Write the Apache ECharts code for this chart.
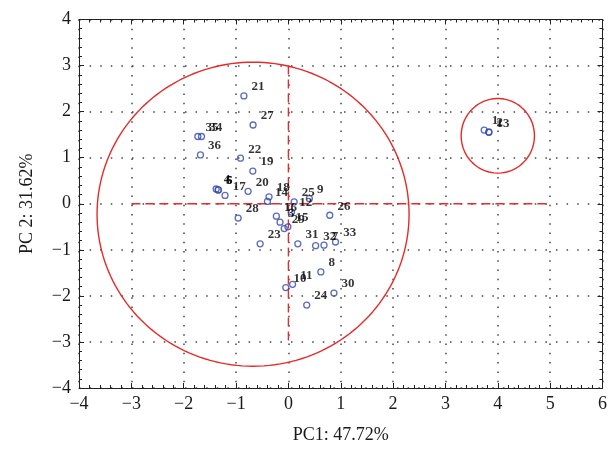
<!DOCTYPE html>
<html>
<head>
<meta charset="utf-8">
<script src="https://cdn.jsdelivr.net/npm/echarts@6/dist/echarts.min.js"></script>
<style>html,body{margin:0;padding:0;background:#fff;}#c{width:610px;height:449px;}</style>
</head>
<body>
<div id="c"></div>
<script>
// Sample ids and PCA scores
const ids = ['1','2','3','4','5','6','7','8','9','10','11','12','13','14','15','16','17','18',
  '19','20','21','22','23','24','25','26','27','28','29','30','31','32','33','34','35','36'];
const pc1 = [3.74, 3.83, -0.16, -1.38, -1.34, -1.34, 0.68, 0.62, 0.40, -0.05, 0.08, 0.06,
  3.83, -0.40, -0.01, -0.23, -1.21, -0.37, -0.68, -0.77, -0.85, -0.915, -0.54, 0.35,
  0.11, 0.79, -0.675, -0.96, -0.08, 0.87, 0.18, 0.52, 0.90, -1.66, -1.73, -1.68];
const pc2 = [1.60, 1.56, -0.40, 0.32, 0.30, 0.30, -0.90, -1.48, 0.11, -1.82, -1.75, -0.18,
  1.55, 0.05, -0.50, -0.27, 0.18, 0.15, 0.71, 0.27, 2.34, 0.99, -0.87, -2.20,
  0.04, -0.25, 1.71, -0.31, -0.54, -1.94, -0.87, -0.91, -0.83, 1.46, 1.46, 1.06];

// Group ellipses: [centerX, centerY, radiusX, radiusY]
const bigEllipse = [-0.675, -0.227, 2.98, 3.30];
const smallEllipse = [4.0, 1.475, 0.70, 0.81];
// Red dashed cross lines
const vLine = [[0, 3], [0, -3]];
const hLine = [[-3, 0], [5, 0]];

const xTicks = {min: -4, max: 6, interval: 1};
const yTicks = {min: -4, max: 4, interval: 1};

function ellipsePts(e) {
  const pts = [];
  const n = 180;
  for (let i = 0; i <= n; i++) {
    const t = 2 * Math.PI * i / n;
    pts.push([e[0] + e[2] * Math.cos(t), e[1] + e[3] * Math.sin(t)]);
  }
  return pts;
}

const serif = '"Liberation Serif", "DejaVu Serif", serif';
const fmt = v => String(v).replace('-', '\u2212');
const red = '#e62a2a';

const chart = echarts.init(document.getElementById('c'));
const baseAxis = {
  type: 'value',
  axisLine: {show: true, onZero: false, lineStyle: {color: '#222', width: 1}},
  axisTick: {show: true, inside: true, length: 5, lineStyle: {color: '#222'}},
  minorTick: {show: true, splitNumber: 5, length: 3, lineStyle: {color: '#222'}},
};
chart.setOption({
  animation: false,
  grid: {left: 79, right: 1, top: 19.5, bottom: 59},
  xAxis: [
    Object.assign({}, baseAxis, {
      min: xTicks.min, max: xTicks.max, interval: xTicks.interval, position: 'bottom',
      name: 'PC1: 47.72%', nameLocation: 'middle', nameGap: 38,
      nameTextStyle: {fontFamily: serif, fontSize: 18, color: '#1a1a1a'},
      axisLabel: {fontFamily: serif, fontSize: 18, color: '#1a1a1a', margin: 7, formatter: fmt},
      splitLine: {show: true, lineStyle: {color: '#444', width: 1.5, type: [1.5, 7.76]}}
    }),
    Object.assign({}, baseAxis, {
      min: xTicks.min, max: xTicks.max, interval: xTicks.interval, position: 'top',
      axisLabel: {show: false}, splitLine: {show: false}
    })
  ],
  yAxis: [
    Object.assign({}, baseAxis, {
      min: yTicks.min, max: yTicks.max, interval: yTicks.interval, position: 'left',
      name: 'PC 2: 31.62%', nameLocation: 'middle', nameGap: 43,
      nameTextStyle: {fontFamily: serif, fontSize: 18, color: '#1a1a1a'},
      axisLabel: {fontFamily: serif, fontSize: 18, color: '#1a1a1a', margin: 8, formatter: fmt},
      splitLine: {show: true, lineStyle: {color: '#444', width: 1.5, type: [1.5, 9.1]}}
    }),
    Object.assign({}, baseAxis, {
      min: yTicks.min, max: yTicks.max, interval: yTicks.interval, position: 'right',
      axisLabel: {show: false}, splitLine: {show: false}
    })
  ],
  series: [
    {type: 'line', data: ellipsePts(bigEllipse), showSymbol: false, symbol: 'none',
      lineStyle: {color: red, width: 1.4}, silent: true, z: 2},
    {type: 'line', data: ellipsePts(smallEllipse), showSymbol: false, symbol: 'none',
      lineStyle: {color: red, width: 1.4}, silent: true, z: 2},
    {type: 'line', data: vLine, symbol: 'none',
      lineStyle: {color: red, width: 1.4, type: [9, 5]}, silent: true, z: 2},
    {type: 'line', data: hLine, symbol: 'none',
      lineStyle: {color: red, width: 1.4, type: [9, 5]}, silent: true, z: 2},
    {type: 'scatter', symbol: 'circle', symbolSize: 6, z: 5,
      data: pc1.map((x, i) => ({value: [x, pc2[i]], name: ids[i]})),
      itemStyle: {color: 'transparent', borderColor: '#3347b0', borderWidth: 1.3},
      label: {show: true, position: 'right', distance: 4, offset: [0, -9],
        formatter: p => p.name, fontFamily: serif, fontSize: 13, fontWeight: 'bold', color: '#000'}
    }
  ]
});
</script>
</body>
</html>
